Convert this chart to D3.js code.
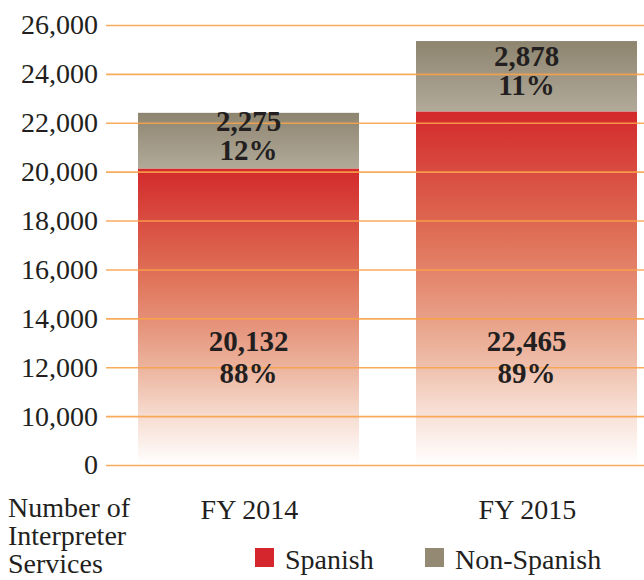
<!DOCTYPE html>
<html>
<head>
<meta charset="utf-8">
<script src="https://cdn.jsdelivr.net/npm/d3@7"></script>
<style>
  html, body { margin: 0; padding: 0; background: #ffffff; }
  svg { display: block; }
</style>
</head>
<body>
<svg id="chart" width="644" height="580"></svg>
<script>
// ---- data ----
const categories = ["FY 2014", "FY 2015"];
const spanish = [20132, 22465];
const nonSpanish = [2275, 2878];
const spanishPct = ["88%", "89%"];
const nonSpanishPct = ["12%", "11%"];
const tickValues = [8000, 10000, 12000, 14000, 16000, 18000, 20000, 22000, 24000, 26000];
const tickLabels = ["0", "10,000", "12,000", "14,000", "16,000", "18,000", "20,000", "22,000", "24,000", "26,000"];
const seriesNames = ["Spanish", "Non-Spanish"];
const axisTitle = ["Number of", "Interpreter", "Services"];

// ---- layout ----
const FONT = "Liberation Serif, DejaVu Serif, serif";
const INK = "#231f20";
const W = 644, H = 580;
const svg = d3.select("#chart")
  .attr("font-family", FONT)
  .style("font-family", FONT);
const fmt = d3.format(",");

const y = d3.scaleLinear().domain([8000, 26000]).range([465, 25]);
const x = d3.scaleBand().domain(categories).range([109.5, 665.5])
  .paddingInner(0.205).paddingOuter(0.1025);

// gradients
const defs = svg.append("defs");
const gRed = defs.append("linearGradient").attr("id", "gradRed")
  .attr("x1", 0).attr("y1", 0).attr("x2", 0).attr("y2", 1);
[[0, "#d3292b"], [0.35, "#df6f56"], [0.51, "#e58f76"], [0.67, "#ecb39d"], [0.83, "#f6dbcf"], [1, "#ffffff"]]
  .forEach(([o, c]) => gRed.append("stop").attr("offset", o).attr("stop-color", c));
const gGray = defs.append("linearGradient").attr("id", "gradGray")
  .attr("x1", 0).attr("y1", 0).attr("x2", 0).attr("y2", 1);
[[0, "#8e8570"], [1, "#b1aa99"]]
  .forEach(([o, c]) => gGray.append("stop").attr("offset", o).attr("stop-color", c));

const rows = categories.map((c, i) => ({
  cat: c, sp: spanish[i], ns: nonSpanish[i], spP: spanishPct[i], nsP: nonSpanishPct[i]
}));

// bars
const bars = svg.append("g");
bars.selectAll("rect.sp").data(rows).join("rect")
  .attr("class", "sp")
  .attr("x", d => x(d.cat))
  .attr("width", x.bandwidth())
  .attr("y", d => y(d.sp))
  .attr("height", d => y(8000) - y(d.sp))
  .attr("fill", "url(#gradRed)");
bars.selectAll("rect.ns").data(rows).join("rect")
  .attr("class", "ns")
  .attr("x", d => x(d.cat))
  .attr("width", x.bandwidth())
  .attr("y", d => y(d.sp + d.ns))
  .attr("height", d => y(d.sp) - y(d.sp + d.ns))
  .attr("fill", "url(#gradGray)");

// axis with gridlines (drawn above bars)
const axis = d3.axisLeft(y)
  .tickValues(tickValues)
  .tickFormat((d, i) => tickLabels[i])
  .tickSizeInner(-(W - 106))
  .tickSizeOuter(0)
  .tickPadding(8);
const ag = svg.append("g").attr("transform", "translate(106,0)").call(axis)
  .attr("font-family", FONT).attr("font-size", 28);
ag.select(".domain").remove();
ag.selectAll(".tick line").attr("stroke", "#f8a24a").attr("stroke-width", 1.6).attr("opacity", 0.9);
ag.selectAll(".tick text")
  .style("font-family", FONT)
  .attr("font-size", 28)
  .attr("fill", INK);

// value labels
const lab = svg.append("g").attr("text-anchor", "middle")
  .attr("font-family", FONT)
  .attr("font-size", 29).attr("font-weight", "bold").attr("fill", INK);
rows.forEach(d => {
  const cx = x(d.cat) + x.bandwidth() / 2;
  const mid = (y(d.sp) + y(d.sp + d.ns)) / 2;
  lab.append("text").attr("x", cx).attr("y", mid - 10).text(fmt(d.ns));
  lab.append("text").attr("x", cx).attr("y", mid + 19).text(d.nsP);
  lab.append("text").attr("x", cx).attr("y", 351).text(fmt(d.sp));
  lab.append("text").attr("x", cx).attr("y", 383).text(d.spP);
});

// category labels
svg.append("g").attr("font-family", FONT).attr("fill", INK)
  .selectAll("text").data(categories).join("text")
  .attr("x", d => x(d) + x.bandwidth() / 2 + 1)
  .attr("y", 519)
  .attr("text-anchor", "middle")
  .attr("font-size", 28)
  .text(d => d);

// axis title
svg.append("g").attr("font-family", FONT).attr("fill", INK)
  .selectAll("text").data(axisTitle).join("text")
  .attr("x", 8)
  .attr("y", (d, i) => 517 + i * 28)
  .attr("font-size", 28)
  .text(d => d);

// legend
const legendColors = ["#d4262c", "#948a74"];
const legendX = [255, 425];
const lg = svg.append("g").attr("font-family", FONT).attr("fill", INK);
seriesNames.forEach((n, i) => {
  lg.append("rect").attr("x", legendX[i]).attr("y", 548).attr("width", 19).attr("height", 19)
    .attr("fill", legendColors[i]);
  lg.append("text").attr("x", legendX[i] + 30).attr("y", 569).attr("font-size", 28).text(n);
});
</script>
</body>
</html>
